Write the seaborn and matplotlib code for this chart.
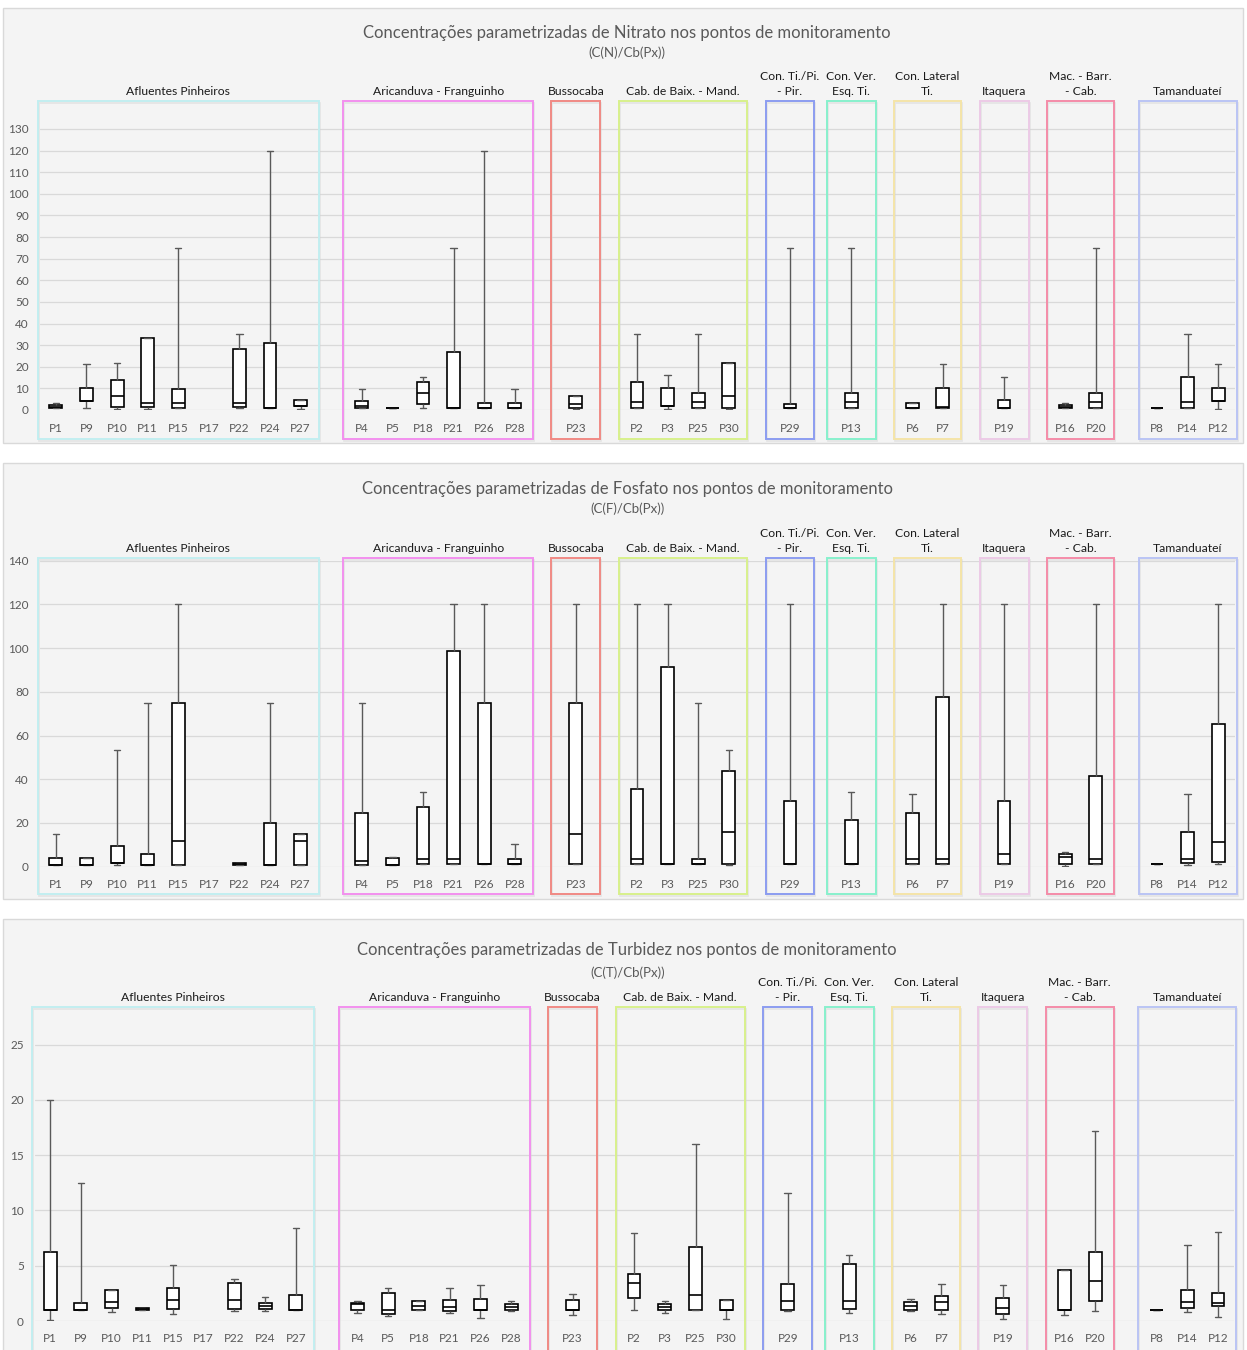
import numpy as np
import pandas as pd
import matplotlib
matplotlib.use("Agg")
import matplotlib.pyplot as plt
import matplotlib.patches as mpatches
from matplotlib.transforms import blended_transform_factory, offset_copy
import seaborn as sns

# -------------------------
# Data
# -------------------------

groups = ["Afluentes Pinheiros", "Aricanduva - Franguinho", "Bussocaba",
          "Cab. de Baix. - Mand.", "Con. Ti./Pi.\n- Pir.", "Con. Ver.\nEsq. Ti.",
          "Con. Lateral\nTi.", "Itaquera", "Mac. - Barr.\n- Cab.", "Tamanduateí"]

group_stations = [
    ["P1", "P9", "P10", "P11", "P15", "P17", "P22", "P24", "P27"],
    ["P4", "P5", "P18", "P21", "P26", "P28"],
    ["P23"],
    ["P2", "P3", "P25", "P30"],
    ["P29"],
    ["P13"],
    ["P6", "P7"],
    ["P19"],
    ["P16", "P20"],
    ["P8", "P14", "P12"],
]

group_colors = ["#c2eef0", "#f290ee", "#f08a84", "#d8f08c", "#8c9cf0",
                "#88f0cc", "#f4e4a8", "#eccae6", "#f48ca8", "#bac4f4"]

stations = [s for g in group_stations for s in g]
nan = np.nan

# five-number summaries in station order: min, q1, median, q3, max
nit_min = [0.9, 0.9, 0.6, 0.3, 0.9, nan, 0.9, 0.9, 0.3, 0.8, 0.8, 0.8, 0.8, 0.8, 0.8,
           0.5, 0.8, 0.5, 0.8, 0.5, 0.8, 0.8, 0.8, 0.8, 0.8, 0.8, 0.8, 0.8, 0.8, 0.3]
nit_q1 = [0.9, 4.0, 1.2, 1.2, 0.9, nan, 1.2, 0.9, 1.7, 0.8, 0.8, 2.6, 0.8, 0.8, 0.8,
          1.1, 0.8, 1.7, 0.8, 0.8, 0.8, 0.8, 0.8, 1.1, 0.8, 0.8, 0.8, 0.8, 0.8, 4.2]
nit_med = [1.5, 4.0, 6.3, 3.1, 3.4, nan, 3.1, 0.9, 1.7, 2.0, 0.8, 7.7, 0.8, 0.8, 0.8,
           2.8, 3.5, 1.7, 3.5, 6.3, 0.8, 3.5, 0.8, 1.4, 0.8, 1.5, 3.5, 0.8, 3.5, 4.2]
nit_q3 = [2.2, 10.0, 13.7, 33.3, 9.6, nan, 28.2, 30.8, 4.5, 4.3, 0.8, 13.1, 26.7, 3.4, 3.4,
          6.3, 13.1, 10.0, 7.7, 21.9, 2.8, 7.7, 3.4, 10.0, 4.6, 2.2, 7.7, 0.8, 15.1, 10.0]
nit_max = [3.4, 21.4, 21.9, 33.3, 75.0, nan, 35.3, 120.0, 4.5, 9.9, 0.8, 15.1, 75.0, 120.0, 9.9,
           6.3, 35.2, 16.0, 35.2, 21.9, 75.0, 75.0, 3.4, 21.4, 15.1, 3.4, 75.0, 0.8, 35.2, 21.4]

fos_min = [0.9, 0.9, 0.6, 0.9, 0.9, nan, 0.6, 0.9, 0.9, 0.9, 0.9, 1.4, 1.1, 1.1, 1.1,
           1.1, 1.1, 1.1, 1.1, 0.6, 1.1, 1.1, 1.1, 1.1, 1.1, 0.5, 1.1, 1.1, 0.8, 1.1]
fos_q1 = [0.9, 0.9, 1.5, 0.9, 0.9, nan, 0.9, 0.9, 0.9, 0.9, 0.9, 1.4, 1.1, 1.1, 1.1,
          1.1, 1.1, 1.1, 1.1, 1.1, 1.1, 1.4, 1.1, 1.1, 1.1, 1.1, 1.1, 1.1, 1.7, 2.0]
fos_med = [0.9, 0.9, 1.5, 0.9, 11.6, nan, 1.2, 0.9, 11.6, 2.6, 0.9, 3.4, 3.7, 1.1, 1.1,
           15.1, 3.7, 1.1, 1.1, 15.7, 1.1, 1.4, 3.7, 3.7, 5.9, 4.6, 3.7, 1.1, 3.4, 11.4]
fos_q3 = [3.8, 3.8, 9.6, 5.8, 75.0, nan, 1.7, 19.8, 14.9, 24.6, 3.8, 27.1, 98.8, 75.0, 3.4,
          75.0, 35.4, 91.2, 3.7, 43.6, 30.2, 21.5, 24.6, 77.8, 30.2, 5.6, 41.5, 1.1, 15.7, 65.4]
fos_max = [14.9, 3.8, 53.4, 75.0, 120.0, nan, 1.7, 75.0, 14.9, 75.0, 4.4, 34.3, 120.0, 120.0, 10.4,
           120.0, 120.0, 120.0, 75.0, 53.4, 120.0, 34.3, 33.4, 120.0, 120.0, 6.9, 120.0, 1.1, 33.4, 120.0]

tur_min = [0.1, 1.0, 0.84, 1.0, 0.6, nan, 0.87, 0.93, 1.0, 0.75, 0.48, 1.03, 0.75, 0.27, 0.87,
           0.51, 1.0, 0.75, 1.0, 0.15, 0.87, 0.75, 0.87, 0.63, 0.21, 0.57, 0.87, 1.0, 0.81, 0.39]
tur_q1 = [1.0, 1.0, 1.15, 1.0, 1.06, nan, 1.06, 1.06, 1.0, 1.0, 0.6, 1.03, 0.93, 1.0, 1.03,
          1.0, 2.08, 1.03, 1.0, 1.0, 1.0, 1.09, 1.0, 1.0, 0.63, 1.0, 1.78, 1.0, 1.21, 1.33]
tur_med = [1.0, 1.0, 1.75, 1.05, 1.93, nan, 1.93, 1.36, 1.0, 1.57, 1.0, 1.39, 1.24, 1.0, 1.3,
           1.0, 3.41, 1.3, 2.32, 1.0, 1.81, 1.81, 1.39, 1.72, 1.21, 1.0, 3.62, 1.0, 1.75, 1.63]
tur_q3 = [6.27, 1.66, 2.77, 1.18, 3.0, nan, 3.44, 1.66, 2.32, 1.6, 2.5, 1.81, 1.9, 2.02, 1.57,
          1.9, 4.22, 1.57, 6.72, 1.9, 3.32, 5.13, 1.75, 2.29, 2.11, 4.58, 6.27, 1.0, 2.77, 2.53]
tur_max = [19.96, 12.5, 2.77, 1.18, 5.04, nan, 3.77, 2.2, 8.38, 1.81, 3.0, 1.84, 2.99, 3.26, 1.78,
           2.41, 7.96, 1.78, 16.04, 1.9, 11.61, 6.0, 2.02, 3.38, 3.26, 4.58, 17.16, 1.0, 6.9, 8.02]

titles = ["Concentrações parametrizadas de Nitrato nos pontos de monitoramento",
          "Concentrações parametrizadas de Fosfato nos pontos de monitoramento",
          "Concentrações parametrizadas de Turbidez nos pontos de monitoramento"]
subtitles = ["(C(N)/Cb(Px))", "(C(F)/Cb(Px))", "(C(T)/Cb(Px))"]

# -------------------------
# Layout (pixels)
# -------------------------

W, H = 1247, 1350
panels = [
    dict(box=(8, 443), title_y=33, sub_y=53, left=40, right=1235, y0=410, ytop=107.3,
         ymax=140, yticks=np.arange(0, 131, 10), xlim=(-0.52, 38.55), rect=(101, 439)),
    dict(box=(463, 899), title_y=489, sub_y=509, left=40, right=1235, y0=866.7, ytop=560.7,
         ymax=140, yticks=np.arange(0, 141, 20), xlim=(-0.52, 38.55), rect=(558, 894)),
    dict(box=(919, 1365), title_y=950, sub_y=973, left=35, right=1234, y0=1321, ytop=1007,
         ymax=28.4, yticks=np.arange(0, 26, 5), xlim=(-0.49, 38.52), rect=(1007, 1365)),
]

sns.set_theme(style="white")
plt.rcParams["font.family"] = ["Lato", "DejaVu Sans"]

fig = plt.figure(figsize=(W / 100, H / 100), dpi=100)
fig.patch.set_facecolor("white")


def fy(px):
    return 1 - px / H


# slot order with blank spacer between groups
order = []
slot_of = {}
for gi, g in enumerate(group_stations):
    if gi > 0:
        order.append(f"_gap{gi}")
    for s in g:
        slot_of[s] = len(order)
        order.append(s)

datasets = [
    (nit_min, nit_q1, nit_med, nit_q3, nit_max),
    (fos_min, fos_q1, fos_med, fos_q3, fos_max),
    (tur_min, tur_q1, tur_med, tur_q3, tur_max),
]

for p, (lay, stats) in enumerate(zip(panels, datasets)):
    # panel background
    top, bot = lay["box"]
    fig.add_artist(mpatches.Rectangle((3 / W, fy(bot)), 1240 / W, (bot - top) / H,
                                      transform=fig.transFigure, facecolor="#f4f4f4",
                                      edgecolor="#d9d9d9", linewidth=1, zorder=-5))

    ax = fig.add_axes([lay["left"] / W, fy(lay["y0"]),
                       (lay["right"] - lay["left"]) / W, (lay["y0"] - lay["ytop"]) / H])
    ax.set_facecolor("none")

    rows = []
    for i, s in enumerate(stations):
        for v in (stats[0][i], stats[1][i], stats[2][i], stats[3][i], stats[4][i]):
            if not np.isnan(v):
                rows.append((s, v))
    df = pd.DataFrame(rows, columns=["station", "value"])

    sns.boxplot(data=df, x="station", y="value", order=order, whis=(0, 100),
                width=0.42, color="white", linecolor="black", linewidth=1.2,
                whiskerprops={"color": "#595959", "linewidth": 1.0},
                capprops={"color": "#595959", "linewidth": 1.0},
                ax=ax)

    ax.set_xlim(*lay["xlim"])
    ax.set_ylim(0, lay["ymax"])
    ax.set_yticks(lay["yticks"])
    ax.set_xticks(range(len(order)))
    ax.set_xticklabels(["" if o.startswith("_gap") else o for o in order])
    ax.yaxis.grid(True, color="#d9d9d9", linewidth=0.9)
    ax.set_axisbelow(True)
    for sp in ax.spines.values():
        sp.set_visible(False)
    ax.tick_params(axis="both", length=0, labelsize=8.5, labelcolor="#595959")
    ax.tick_params(axis="x", pad=9)
    ax.tick_params(axis="y", pad=8)
    ax.set_xlabel("")
    ax.set_ylabel("")

    # group frames and labels
    trans = blended_transform_factory(ax.transData, fig.transFigure)
    shadow = offset_copy(trans, fig=fig, x=1.0, y=-1.5, units="dots")
    rtop, rbot = lay["rect"]
    for g, sts, c in zip(groups, group_stations, group_colors):
        a, b = slot_of[sts[0]], slot_of[sts[-1]]
        m = 0.8 if a == b else 0.6
        xy = (a - m, fy(rbot))
        w, h = (b - a) + 2 * m, (rbot - rtop) / H
        ax.add_patch(mpatches.Rectangle(xy, w, h, transform=shadow, facecolor="none",
                                        edgecolor="#d4d4d4", linewidth=1.3, alpha=0.45,
                                        clip_on=False, zorder=0.9))
        ax.add_patch(mpatches.Rectangle(xy, w, h, transform=trans, facecolor="none",
                                        edgecolor=c, linewidth=1.4, clip_on=False, zorder=1))
        ax.text((a + b) / 2, fy(rtop - 4), g, transform=trans, ha="center", va="bottom",
                fontsize=8.7, color="#1a1a1a", linespacing=1.45)

    fig.text(0.503, fy(lay["title_y"]), titles[p], ha="center", va="center",
             fontsize=12, color="#595959")
    fig.text(0.503, fy(lay["sub_y"]), subtitles[p], ha="center", va="center",
             fontsize=9.5, color="#595959")

fig.savefig("out.png", dpi=100, facecolor="white")
